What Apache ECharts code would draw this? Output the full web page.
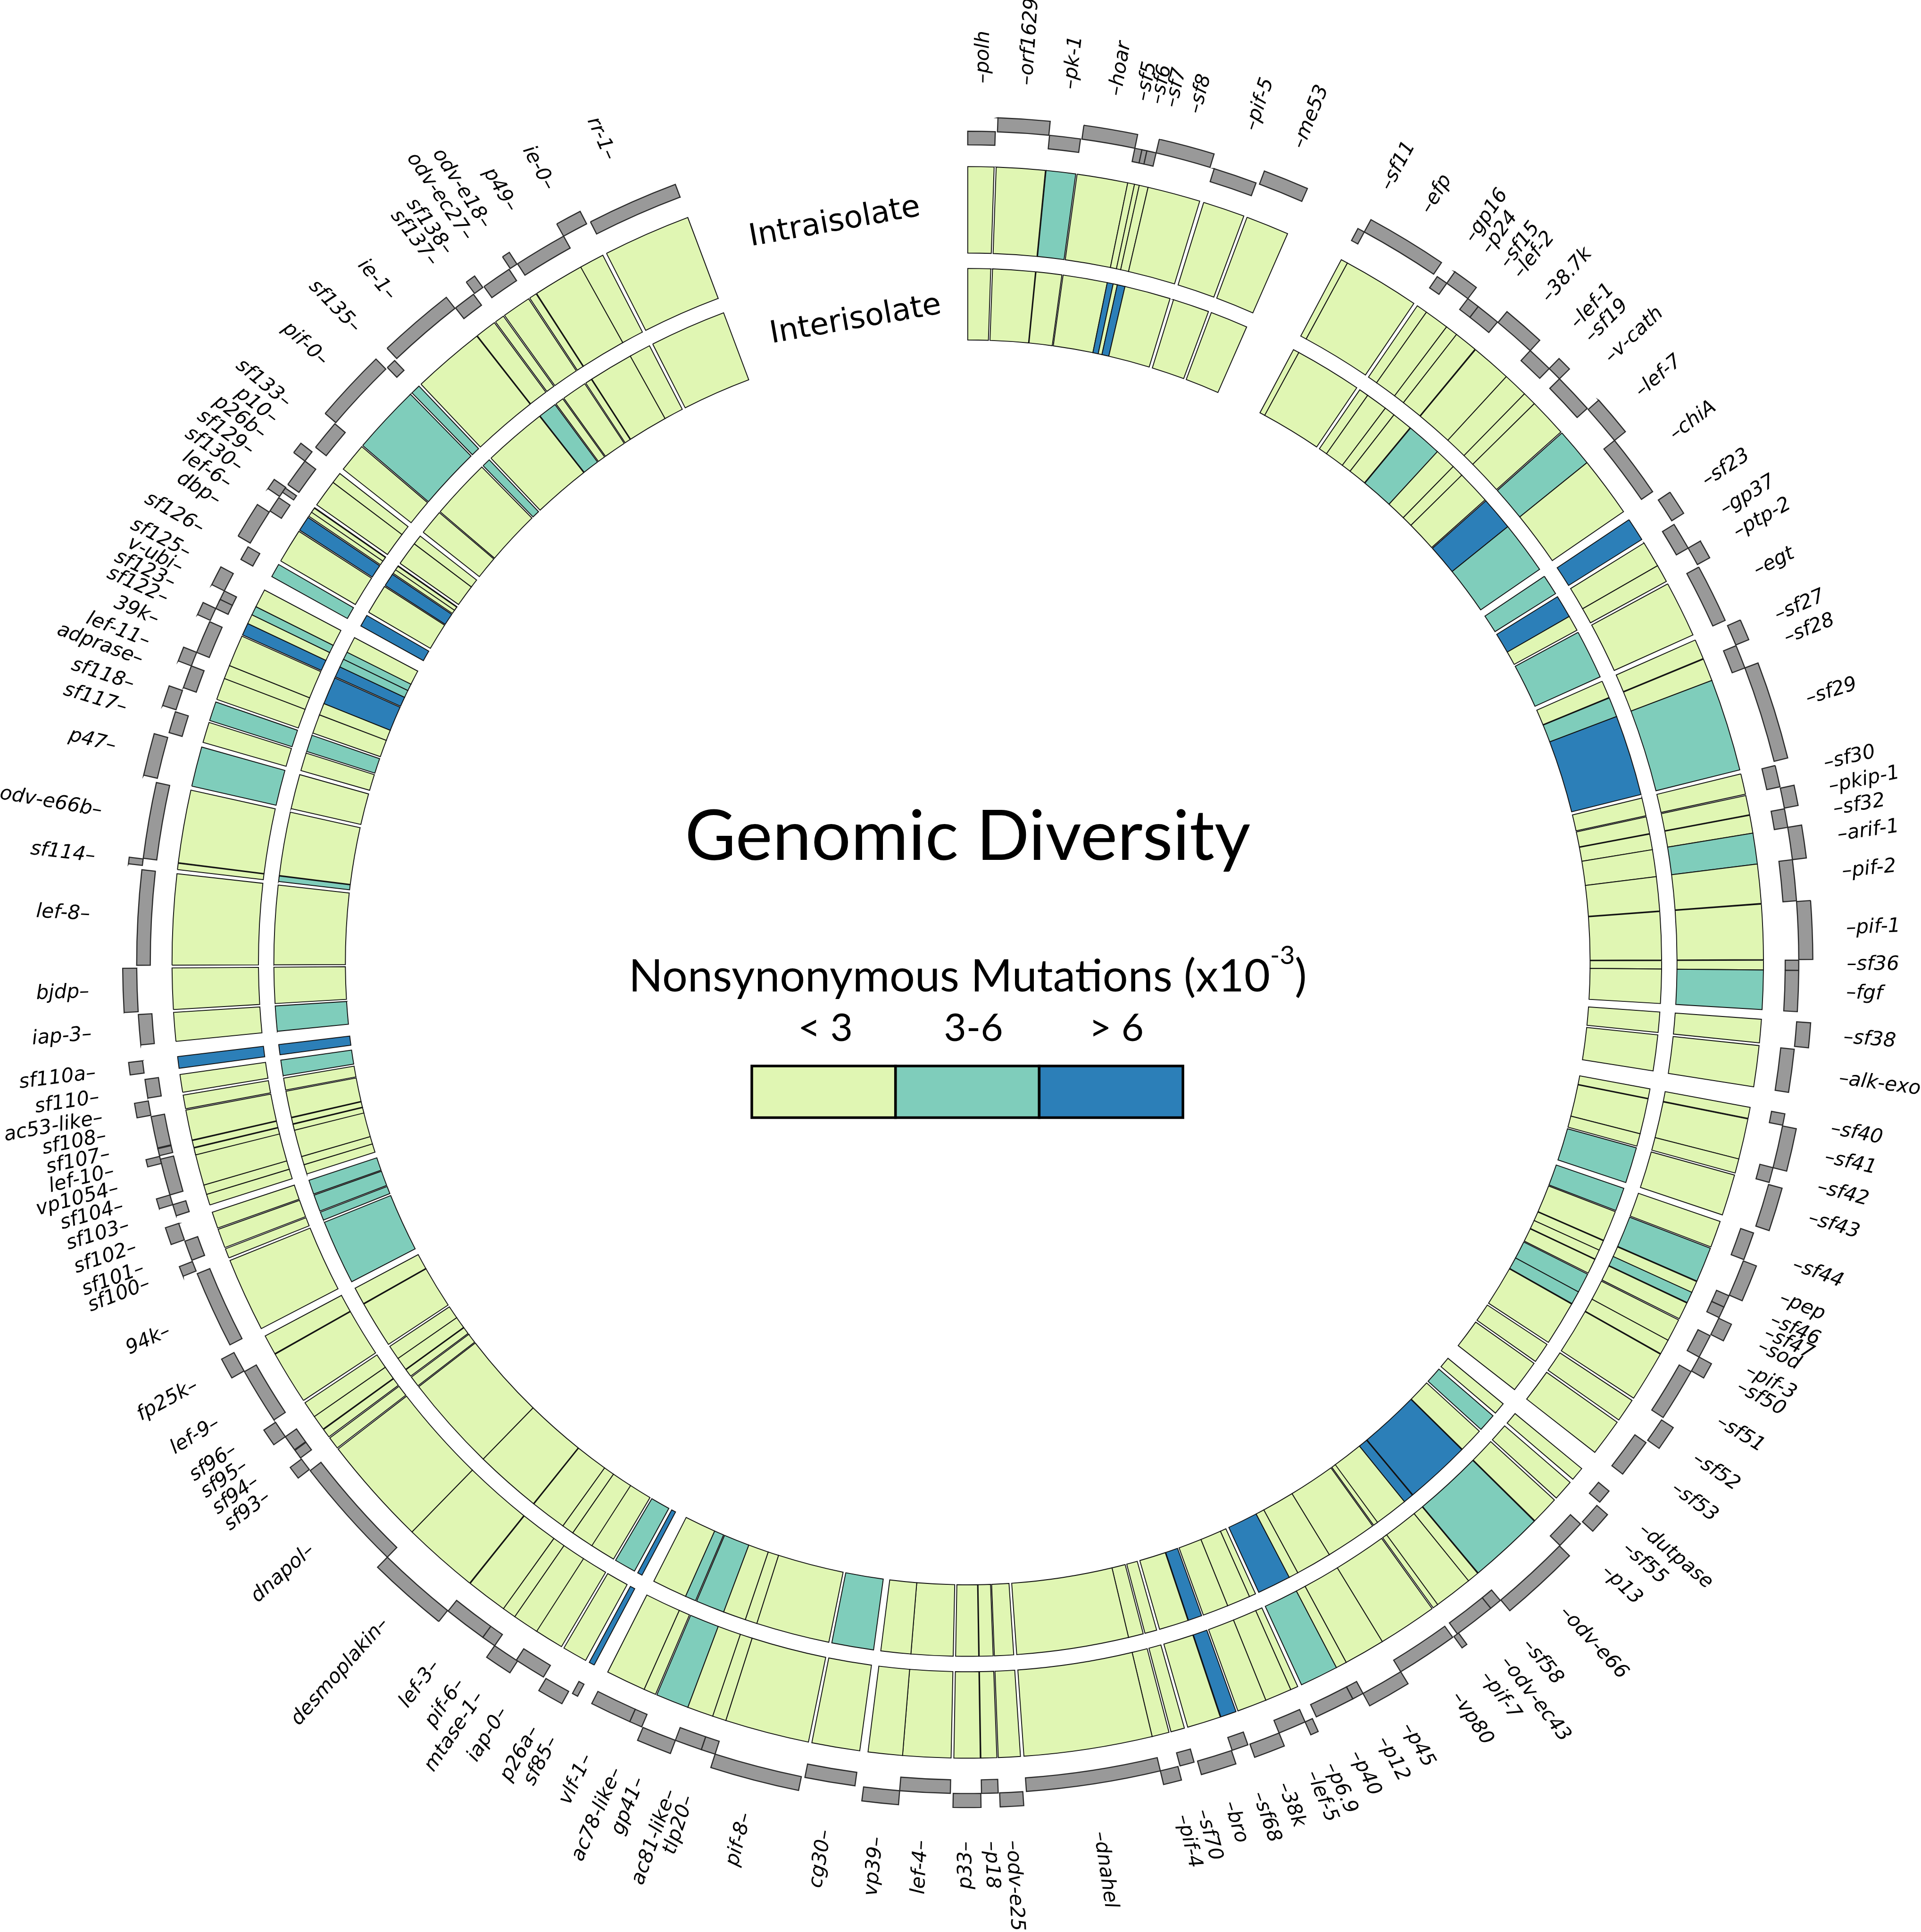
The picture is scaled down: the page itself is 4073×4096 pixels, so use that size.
<!DOCTYPE html>
<html>
<head>
<meta charset="utf-8">
<script src="https://cdn.jsdelivr.net/npm/echarts@6.0.0/dist/echarts.min.js"></script>
<style>
html,body{margin:0;padding:0;background:#ffffff;}
#chart{width:4073px;height:4096px;}
</style>
</head>
<body>
<div id="chart"></div>
<script>
// ---------------- data (angles in degrees around the genome circle) ----------------
const geneNames = ['polh','orf1629','pk-1','hoar','sf5','sf6','sf7','sf8','pif-5','me53',
'sf11','efp','gp16','p24','sf15','lef-2','38.7k','lef-1','sf19','v-cath',
'lef-7','chiA','sf23','gp37','ptp-2','egt','sf27','sf28','sf29','sf30',
'pkip-1','sf32','arif-1','pif-2','pif-1','sf36','fgf','sf38','alk-exo','sf40',
'sf41','sf42','sf43','sf44','pep','sf46','sf47','sod','pif-3','sf50',
'sf51','sf52','sf53','dutpase','sf55','p13','odv-e66','sf58','odv-ec43','pif-7',
'vp80','p45','p12','p40','p6.9','lef-5','38k','sf68','bro','sf70',
'pif-4','dnahel','odv-e25','p18','p33','lef-4','vp39','cg30','pif-8','tlp20',
'ac81-like','gp41','ac78-like','vlf-1','sf85','p26a','iap-0','mtase-1','pif-6','lef-3',
'desmoplakin','dnapol','sf93','sf94','sf95','sf96','lef-9','fp25k','94k','sf100',
'sf101','sf102','sf103','sf104','vp1054','lef-10','sf107','sf108','ac53-like','sf110',
'sf110a','iap-3','bjdp','lef-8','sf114','odv-e66b','p47','sf117','sf118','adprase',
'lef-11','39k','sf122','sf123','v-ubi','sf125','sf126','dbp','lef-6','sf130',
'sf129','p26b','p10','sf133','pif-0','sf135','ie-1','sf137','sf138','odv-ec27',
'odv-e18','p49','ie-0','rr-1'];

const geneStart = [0.0,2.05,5.65,7.9,11.6,12.1,12.45,13.1,17.25,20.55,
28.0,28.5,34.4,35.2,37.0,37.9,39.65,42.6,44.4,45.4,
48.3,51.1,56.2,58.2,60.1,61.6,66.1,67.6,69.25,76.3,
77.9,79.35,80.65,82.9,85.8,89.85,90.55,94.1,96.0,100.5,
101.35,104.3,105.5,109.0,111.05,113.65,114.5,115.35,116.7,118.35,
119.5,123.4,125.3,129.5,130.8,132.5,134.6,140.15,141.0,143.8,
144.3,148.6,151.6,152.4,155.5,156.05,158.0,160.3,161.5,164.2,
165.35,166.6,176.2,177.9,179.1,181.2,184.7,187.8,191.55,197.7,
198.7,200.6,203.1,204.0,208.0,208.7,210.7,212.8,214.7,215.7,
218.75,224.3,232.4,233.4,234.1,235.2,236.6,240.55,242.6,248.2,
249.0,250.5,252.25,253.05,253.75,256.0,256.55,257.1,259.4,260.6,
262.35,264.3,266.6,269.8,276.7,277.2,282.8,286.05,287.7,289.3,
290.9,291.9,294.3,295.2,295.9,296.55,299.0,300.3,302.9,304.1,
304.45,305.1,307.1,308.3,310.5,315.7,316.6,321.95,323.6,324.4,
326.6,327.2,330.9,333.0];

const geneEnd = [1.9,5.6,7.8,11.6,12.1,12.45,13.1,16.95,20.3,23.7,
28.5,34.1,35.2,37.0,37.9,39.6,42.6,44.4,45.4,48.2,
51.1,55.5,57.9,60.1,61.4,65.7,67.55,69.25,76.0,77.8,
79.3,80.65,82.9,85.75,89.8,90.55,93.4,95.8,99.0,101.3,
104.3,105.35,108.5,110.95,113.6,114.5,115.3,116.6,118.35,119.45,
123.2,125.1,128.0,130.5,132.3,134.55,140.1,141.0,143.9,144.2,
148.6,151.6,152.4,155.2,156.05,158.0,160.15,161.45,163.95,165.2,
166.6,175.95,177.8,179.05,181.0,184.7,187.2,191.3,197.7,198.7,
200.6,203.0,204.0,206.9,208.4,210.5,212.9,214.7,215.7,218.7,
224.3,232.3,233.3,234.05,235.2,236.4,240.5,242.0,248.0,248.9,
250.4,251.7,253.05,253.75,256.3,256.5,257.05,259.3,260.4,261.9,
263.2,266.4,269.6,276.4,277.15,282.5,285.7,287.55,289.1,290.9,
291.9,294.2,295.2,295.9,296.55,297.9,300.0,302.8,304.0,304.85,
304.8,307.1,307.9,310.4,315.55,316.4,321.9,323.5,324.3,326.5,
327.15,330.9,332.7,339.4];

// 0 = inner gene track, 1 = outer gene track
const geneTrack = [0,1,0,1,0,0,0,1,0,1,
0,1,0,1,0,0,1,0,1,0,
1,0,1,0,1,0,1,0,1,0,
1,0,1,0,1,0,0,1,0,0,
1,0,1,0,1,0,0,1,0,1,
0,1,0,0,1,0,1,0,0,1,
0,1,0,0,1,0,1,0,1,0,
1,0,1,0,1,0,1,0,1,0,
0,1,0,0,0,1,0,1,0,0,
1,0,1,0,0,1,0,1,0,1,
0,1,0,1,0,1,0,0,1,0,
1,0,1,0,1,0,1,0,1,0,
1,0,1,0,0,1,0,1,0,1,
0,0,1,0,1,0,1,0,1,0,
1,0,1,0];

// nonsynonymous mutation class: 0 = "< 3", 1 = "3-6", 2 = "> 6"
const intraClass = [0,0,1,0,0,0,0,0,0,0,
0,0,0,0,0,0,0,0,0,0,
1,0,2,0,0,0,0,0,1,0,
0,0,1,0,0,0,1,0,0,0,
0,0,0,0,1,0,1,0,0,0,
0,0,0,0,0,0,1,0,0,0,
0,0,0,1,0,0,0,2,0,0,
0,0,0,0,0,0,0,0,0,0,
0,1,0,0,2,0,0,0,0,0,
0,0,0,0,0,0,0,0,0,0,
0,0,0,0,0,0,0,0,0,0,
2,0,0,0,0,0,1,0,1,0,
0,0,2,0,1,0,1,0,2,0,
0,0,0,0,1,1,0,0,0,0,
0,0,0,0];

const interClass = [0,0,0,0,2,0,2,0,0,0,
0,0,0,0,0,0,1,0,0,0,
2,1,1,2,0,1,0,1,2,0,
0,0,0,0,0,0,0,0,0,0,
0,0,1,1,0,0,0,0,1,1,
0,0,0,0,1,0,2,2,0,0,
0,0,0,2,0,0,0,2,0,0,
0,0,0,0,0,0,0,1,0,0,
0,1,1,0,2,1,0,0,0,0,
0,0,0,0,0,0,0,0,1,1,
1,1,0,0,0,0,0,0,0,1,
2,1,0,0,1,0,0,0,1,0,
0,2,2,1,1,0,2,0,2,0,
0,0,0,0,0,1,0,1,0,0,
0,0,0,0];

const labelAngle = [1.0,3.85,6.7,9.7,11.5,12.45,13.4,15.0,18.8,22.1,
28.4,31.4,34.8,36.1,37.6,38.7,41.1,43.6,44.9,46.75,
49.7,53.25,56.9,59.1,60.8,63.6,66.8,68.4,72.6,76.95,
78.5,80.0,81.7,84.1,87.8,90.15,92.0,94.9,97.6,100.9,
102.8,104.8,106.9,110.1,112.4,113.95,114.9,115.85,117.6,118.8,
121.4,124.25,126.6,130.0,131.6,133.6,137.4,140.6,142.4,144.0,
146.3,150.1,151.9,153.9,155.7,157.0,159.0,160.75,162.7,164.55,
165.9,171.4,177.1,178.5,180.1,183.0,185.9,189.3,194.6,198.5,
199.7,201.9,203.5,205.6,208.1,209.5,211.85,213.7,215.2,217.2,
221.5,228.25,232.7,233.95,235.2,236.45,238.5,241.3,245.25,248.6,
249.65,251.1,252.6,253.9,255.1,256.25,257.4,258.6,259.8,261.15,
262.75,265.3,268.06,273.1,276.9,279.9,284.2,286.8,288.4,290.1,
291.35,292.9,294.4,295.5,296.6,297.7,299.5,301.6,302.9,304.2,
305.5,306.8,308.05,309.4,313.0,316.0,319.1,322.6,323.8,325.4,
326.8,328.8,331.6,336.0];

const classLabels = ['< 3', '3-6', '> 6'];
const ringNames = ['Intraisolate', 'Interisolate'];
const ringTitleAngle = [349.8, 350.1];

// ---------------- layout (reference pixel units, scaled to the window) ----------------
const S = 4073 / 4244;
const CX = 2138 * S, CY = 2126 * S;
const R_MAX = 2000;
const RING_INTRA = [1567, 1758];
const RING_INTER = [1375, 1533];
const TRACK_R = [[1806, 1836], [1836, 1867]];
const LABEL_R = 1942;
const RING_TITLE_R = [1660, 1440];
const COLORS = ['#e0f6b3', '#7fcdbb', '#2c7fb8'];

function sector(params, api, a0, a1, r0v, r1v) {
  const cs = params.coordSys;
  const cx = cs.cx, cy = cs.cy;
  const pA = api.coord([r1v, a0]);
  const pB = api.coord([r1v, a1]);
  const pC = api.coord([r0v, a0]);
  let sa = Math.atan2(pA[1] - cy, pA[0] - cx);
  let ea = Math.atan2(pB[1] - cy, pB[0] - cx);
  while (ea < sa) ea += Math.PI * 2;
  return {
    cx: cx, cy: cy,
    r: Math.hypot(pA[0] - cx, pA[1] - cy),
    r0: Math.hypot(pC[0] - cx, pC[1] - cy),
    startAngle: sa, endAngle: ea, clockwise: true
  };
}

const geneData = geneNames.map((n, i) => [geneStart[i], geneEnd[i], geneTrack[i], i]);
const intraData = geneNames.map((n, i) => [geneStart[i], geneEnd[i], intraClass[i], i]);
const interData = geneNames.map((n, i) => [geneStart[i], geneEnd[i], interClass[i], i]);
const labelData = geneNames.map((n, i) => [labelAngle[i], i]);
const ringTitleData = ringNames.map((n, i) => [ringTitleAngle[i], i]);

function ringSeries(data, radii) {
  return {
    type: 'custom',
    coordinateSystem: 'polar',
    data: data,
    silent: true,
    renderItem: function (params, api) {
      const s = api.value(0), e = api.value(1), c = api.value(2);
      return {
        type: 'sector',
        shape: sector(params, api, s, e, radii[0], radii[1]),
        style: { fill: COLORS[c], stroke: '#111111', lineWidth: 1.9 }
      };
    }
  };
}

const chart = echarts.init(document.getElementById('chart'), null, { renderer: 'canvas', width: 4073, height: 4096 });

const legX0 = 1594, legY = 2260, legW = 304.7, legH = 109.5;
const legendLabelX = [1750, 2064, 2367];

const graphicEls = [];
classLabels.forEach((t, i) => {
  graphicEls.push({
    type: 'rect',
    shape: { x: legX0 + i * legW, y: legY, width: legW, height: legH },
    style: { fill: COLORS[i], stroke: '#000000', lineWidth: 5.5 }
  });
  graphicEls.push({
    type: 'text',
    x: legendLabelX[i], y: 2181,
    style: { text: t, fontSize: 82, fontFamily: 'Lato', fill: '#000000',
      align: 'center', textAlign: 'center', verticalAlign: 'middle', textVerticalAlign: 'middle' }
  });
});
graphicEls.push({
  type: 'text', x: CX, y: 1775,
  style: { text: 'Genomic Diversity', fontSize: 148, fontFamily: 'Lato', fill: '#000000',
    align: 'center', textAlign: 'center', verticalAlign: 'middle', textVerticalAlign: 'middle' }
});
graphicEls.push({
  type: 'text', x: CX, y: 2059,
  style: {
    text: '{a|Nonsynonymous Mutations (x10}{b|-3}{a|)}',
    align: 'center', textAlign: 'center', verticalAlign: 'middle', textVerticalAlign: 'middle',
    rich: {
      a: { fontSize: 95, fontFamily: 'Lato', fill: '#000000', lineHeight: 120, verticalAlign: 'bottom' },
      b: { fontSize: 55, fontFamily: 'Lato', fill: '#000000', lineHeight: 76, verticalAlign: 'top' }
    }
  }
});

const option = {
  backgroundColor: '#ffffff',
  animation: false,
  polar: { center: [CX, CY], radius: [0, R_MAX * S] },
  angleAxis: { type: 'value', min: 0, max: 360, startAngle: 90, clockwise: true, show: false,
    axisLine: { show: false }, axisTick: { show: false }, axisLabel: { show: false }, splitLine: { show: false } },
  radiusAxis: { type: 'value', min: 0, max: R_MAX, show: false,
    axisLine: { show: false }, axisTick: { show: false }, axisLabel: { show: false }, splitLine: { show: false } },
  series: [
    ringSeries(intraData, RING_INTRA),
    ringSeries(interData, RING_INTER),
    {
      type: 'custom',
      coordinateSystem: 'polar',
      data: geneData,
      silent: true,
      renderItem: function (params, api) {
        const s = api.value(0), e = api.value(1), t = api.value(2);
        return {
          type: 'sector',
          shape: sector(params, api, s, e, TRACK_R[t][0], TRACK_R[t][1]),
          style: { fill: '#999999', stroke: '#2a2a2a', lineWidth: 2.4 }
        };
      }
    },
    {
      type: 'custom',
      coordinateSystem: 'polar',
      data: labelData,
      silent: true,
      renderItem: function (params, api) {
        const a = api.value(0);
        const i = api.value(1);
        const p = api.coord([LABEL_R, a]);
        const right = a < 180;
        const rot = (right ? 90 - a : 270 - a) * Math.PI / 180;
        const name = geneNames[i];
        return {
          type: 'text',
          x: p[0], y: p[1], rotation: rot,
          style: {
            text: right ? '\u2013' + name : name + '\u2013',
            fontSize: 42, fontStyle: 'italic', fontFamily: 'DejaVu Sans', fill: '#000000',
            align: right ? 'left' : 'right', textAlign: right ? 'left' : 'right',
            verticalAlign: 'middle', textVerticalAlign: 'middle'
          }
        };
      }
    },
    {
      type: 'custom',
      coordinateSystem: 'polar',
      data: ringTitleData,
      silent: true,
      renderItem: function (params, api) {
        const a = api.value(0);
        const i = api.value(1);
        const p = api.coord([RING_TITLE_R[i], a]);
        return {
          type: 'text',
          x: p[0], y: p[1], rotation: (360 - a) * Math.PI / 180,
          style: {
            text: ringNames[i], fontSize: 65, fontFamily: 'DejaVu Sans', fill: '#000000',
            align: 'center', textAlign: 'center', verticalAlign: 'middle', textVerticalAlign: 'middle'
          }
        };
      }
    }
  ],
  graphic: { elements: graphicEls }
};
chart.setOption(option);
</script>
</body>
</html>
